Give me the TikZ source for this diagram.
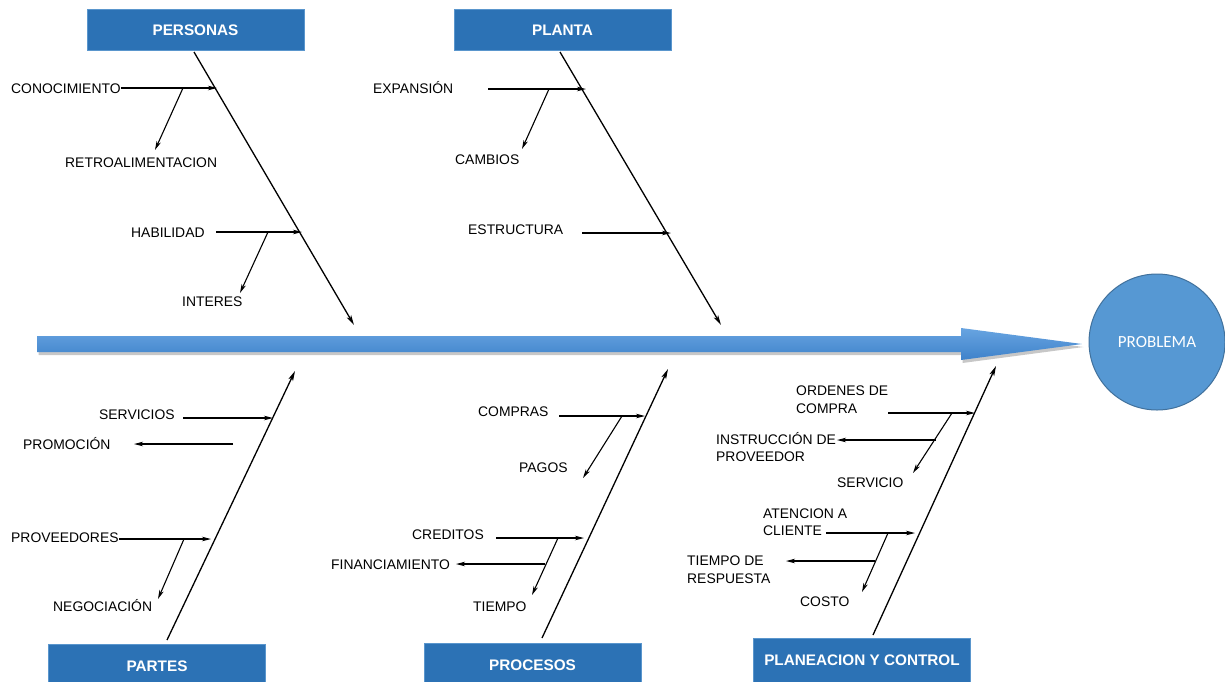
\documentclass[tikz,border=0pt]{standalone}
\usepackage{fontspec}
\setmainfont{Liberation Sans}
\newfontfamily\probfont{Carlito}
\usetikzlibrary{arrows.meta}
\definecolor{boxblue}{RGB}{44,114,181}
\definecolor{boxedge}{RGB}{90,150,205}
\definecolor{arrlight}{RGB}{104,164,225}
\definecolor{arrdark}{RGB}{62,130,202}
\definecolor{circfill}{RGB}{86,152,211}
\definecolor{circedge}{RGB}{65,113,156}
\tikzset{
  hdr/.style={rectangle, fill=boxblue, draw=boxedge, line width=0.6pt, minimum width=217pt, minimum height=44pt, inner sep=0pt, text=white, font=\bfseries\fontsize{15.3}{18}\selectfont},
  lbl/.style={anchor=west, inner sep=0pt, text height=10pt, text depth=0pt, font=\fontsize{13.9}{17.5}\selectfont},
  lbl2/.style={anchor=west, inner sep=0pt, align=left, font=\fontsize{13.9}{17.5}\selectfont},
  bone/.style={line width=1.3pt, -{Stealth[length=10pt,width=5pt,inset=2.5pt]}},
  twig/.style={line width=1.1pt, -{Stealth[length=9pt,width=4.5pt,inset=2.5pt]}}
}
\begin{document}
\begin{tikzpicture}[x=1pt,y=-1pt]
\clip (0,0) rectangle (1225,681);
\fill[white] (0,0) rectangle (1225,681);

% headers
\node[hdr, minimum height=41pt] (hPer) at (195.5,30) {PERSONAS};
\node[hdr, minimum height=41pt] (hPla) at (562.5,30) {PLANTA};
\node[hdr] (hPar) at (157,666) {PARTES};
\node[hdr] (hPro) at (532.5,665) {PROCESOS};
\node[hdr] (hPlc) at (862,660) {PLANEACION Y CONTROL};

% main arrow
\fill[black, opacity=0.22] (38.5,339) -- (962.5,339) -- (962.5,331) -- (1083.5,347) -- (962.5,363) -- (962.5,355) -- (38.5,355) -- cycle;
\shade[top color=arrlight, bottom color=arrdark] (37,336) -- (961,336) -- (961,328) -- (1082,344) -- (961,360) -- (961,352) -- (37,352) -- cycle;

% problem
\node[circle, fill=circfill, draw=circedge, line width=1pt, minimum size=136pt, inner sep=0pt, text=white, font=\probfont\fontsize{17}{19}\selectfont] (prob) at (1157,342) {PROBLEMA};

% bone coordinates
\coordinate (perS) at (194,52);   \coordinate (perE) at (354,325);
\coordinate (plaS) at (560,52);   \coordinate (plaE) at (721,325);
\coordinate (parS) at (167,640);  \coordinate (parE) at (295,371);
\coordinate (proS) at (542,638);  \coordinate (proE) at (668,369);
\coordinate (plcS) at (873,635);  \coordinate (plcE) at (996,366);
\draw[bone] (perS) -- (perE);
\draw[bone] (plaS) -- (plaE);
\draw[bone] (parS) -- (parE);
\draw[bone] (proS) -- (proE);
\draw[bone] (plcS) -- (plcE);

% ---------- PERSONAS
\node[lbl] (conoc) at (11,88) {CONOCIMIENTO};
\node[lbl] (retro) at (65,162) {RETROALIMENTACION};
\node[lbl] (habil) at (131,232) {HABILIDAD};
\node[lbl] (inter) at (182,301) {INTERES};
\coordinate (conocT) at (217,88);
\coordinate (retroF) at (183,88);  \coordinate (retroT) at (155,150);
\coordinate (habilF) at (216,232); \coordinate (habilT) at (302,232);
\coordinate (interF) at (268,232); \coordinate (interT) at (240,293);
\draw[twig] (conoc.east) -- (conocT);
\draw[twig] (retroF) -- (retroT);
\draw[twig] (habilF) -- (habilT);
\draw[twig] (interF) -- (interT);

% ---------- PLANTA
\node[lbl] (expan) at (373,88) {EXPANSIÓN};
\node[lbl] (cambi) at (455,159) {CAMBIOS};
\node[lbl] (estru) at (468,229) {ESTRUCTURA};
\coordinate (expanF) at (488,89); \coordinate (expanT) at (586,89);
\coordinate (cambiF) at (549,89); \coordinate (cambiT) at (522,149);
\coordinate (estruF) at (582,233); \coordinate (estruT) at (671,233);
\draw[twig] (expanF) -- (expanT);
\draw[twig] (cambiF) -- (cambiT);
\draw[twig] (estruF) -- (estruT);

% ---------- PARTES
\node[lbl] (servs) at (99,414) {SERVICIOS};
\node[lbl] (promo) at (23,444) {PROMOCIÓN};
\node[lbl] (prove) at (11,537) {PROVEEDORES};
\node[lbl] (negoc) at (53,606) {NEGOCIACIÓN};
\coordinate (servsF) at (183,418); \coordinate (servsT) at (273,418);
\coordinate (promoF) at (233,444); \coordinate (promoT) at (134,444);
\coordinate (proveT) at (211,539);
\coordinate (negocF) at (184,539); \coordinate (negocT) at (158,599);
\draw[twig] (servsF) -- (servsT);
\draw[twig] (promoF) -- (promoT);
\draw[twig] (prove.east |- proveT) -- (proveT);
\draw[twig] (negocF) -- (negocT);

% ---------- PROCESOS
\node[lbl] (compr) at (478,411) {COMPRAS};
\node[lbl] (pagos) at (519,467) {PAGOS};
\node[lbl] (credi) at (412,534) {CREDITOS};
\node[lbl] (finan) at (331,564) {FINANCIAMIENTO};
\node[lbl] (tiemp) at (473,606) {TIEMPO};
\coordinate (comprF) at (559,416); \coordinate (comprT) at (645,416);
\coordinate (pagosF) at (622,416); \coordinate (pagosT) at (583,478);
\coordinate (crediF) at (496,538); \coordinate (crediT) at (584,538);
\coordinate (finanF) at (545,564); \coordinate (finanT) at (456,564);
\coordinate (tiempF) at (558,538); \coordinate (tiempT) at (532,595);
\draw[twig] (comprF) -- (comprT);
\draw[twig] (pagosF) -- (pagosT);
\draw[twig] (crediF) -- (crediT);
\draw[twig] (finanF) -- (finanT);
\draw[twig] (tiempF) -- (tiempT);

% ---------- PLANEACION Y CONTROL
\node[lbl2] (orden) at (796,399.5) {ORDENES DE\\COMPRA};
\node[lbl2] (instr) at (716,447) {INSTRUCCIÓN DE\\PROVEEDOR};
\node[lbl] (servi) at (837,482) {SERVICIO};
\node[lbl2] (atenc) at (763,522) {ATENCION A\\CLIENTE};
\node[lbl2] (tresp) at (687,569.5) {TIEMPO DE\\RESPUESTA};
\node[lbl] (costo) at (800,601) {COSTO};
\coordinate (ordenF) at (888,413); \coordinate (ordenT) at (975,413);
\coordinate (serviF) at (952,413); \coordinate (serviT) at (913,473);
\coordinate (instrF) at (936,440); \coordinate (instrT) at (837,440);
\coordinate (atencF) at (826,533); \coordinate (atencT) at (915,533);
\coordinate (costoF) at (888,533); \coordinate (costoT) at (862,592);
\coordinate (trespF) at (875,561); \coordinate (trespT) at (786,561);
\draw[twig] (ordenF) -- (ordenT);
\draw[twig] (serviF) -- (serviT);
\draw[twig] (instrF) -- (instrT);
\draw[twig] (atencF) -- (atencT);
\draw[twig] (costoF) -- (costoT);
\draw[twig] (trespF) -- (trespT);
\end{tikzpicture}
\end{document}
